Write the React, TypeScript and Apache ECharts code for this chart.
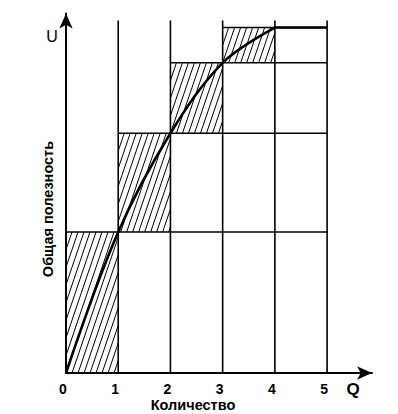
import React, { useEffect, useRef } from "react";
import * as echarts from "echarts";

// Quantity (Q) and total utility (U)
const quantities = [0, 1, 2, 3, 4, 5];
const utility = [0, 40, 68, 88, 98, 98];
const xTickLabels = [0, 1, 2, 3, 4, 5];
const gridTop = 100; // top of vertical guide lines (U units)

const FONT = '"Liberation Sans", Arial, sans-serif';

export default function App() {
  const ref = useRef<HTMLDivElement>(null);

  useEffect(() => {
    if (!ref.current) return;
    const chart = echarts.init(ref.current, null, { renderer: "svg" });

    // hatched rectangles: increments of total utility
    const hatchRects: number[][] = [];
    for (let i = 0; i < quantities.length - 2; i++) {
      hatchRects.push([quantities[i], quantities[i + 1], utility[i], utility[i + 1]]);
    }
    // guide lines
    const guideLines: number[][] = [];
    const lastQ = quantities[quantities.length - 1];
    for (let i = 1; i < quantities.length - 1; i++) {
      guideLines.push([quantities[i - 1], utility[i], lastQ, utility[i]]);
    }
    for (let i = 1; i < quantities.length; i++) {
      guideLines.push([quantities[i], 0, quantities[i], gridTop]);
    }

    const k = 0.34; // hatch slope (dx per dy)
    const spacing = 6;

    const risePart = quantities.slice(0, 5).map((q, i) => [q, utility[i]]);
    const flatPart = quantities.slice(4).map((q, i) => [q, utility[i + 4]]);

    chart.setOption({
      animation: false,
      grid: { left: 66, top: 13.45, bottom: 41, width: 306 },
      xAxis: {
        type: "value",
        min: 0,
        max: 5.86,
        interval: 1,
        splitLine: { show: false },
        axisTick: { show: false },
        axisLine: {
          lineStyle: { color: "#000", width: 2 },
          symbol: ["none", "arrow"],
          symbolSize: [10, 15],
        },
        axisLabel: {
          customValues: xTickLabels,
          color: "#000",
          fontSize: 14,
          fontWeight: "bold",
          fontFamily: FONT,
          margin: 9,
          padding: [0, 6, 0, 0],
        },
      },
      yAxis: {
        type: "value",
        min: 0,
        max: 102,
        splitLine: { show: false },
        axisTick: { show: false },
        axisLabel: { show: false },
        axisLine: {
          lineStyle: { color: "#000", width: 2 },
          symbol: ["none", "arrow"],
          symbolSize: [10, 15],
        },
      },
      series: [
        {
          type: "custom",
          data: hatchRects,
          silent: true,
          z: 1,
          renderItem: (params: any, api: any) => {
            const p0 = api.coord([api.value(0), api.value(2)]);
            const p1 = api.coord([api.value(1), api.value(3)]);
            const L = p0[0], R = p1[0], B = p0[1], T = p1[1];
            const h = B - T;
            const children: any[] = [];
            for (let c = L - k * h; c <= R; c += spacing) {
              const t0 = Math.max(0, (L - c) / k);
              const t1 = Math.min(h, (R - c) / k);
              if (t1 <= t0) continue;
              children.push({
                type: "line",
                shape: { x1: c + k * t0, y1: B - t0, x2: c + k * t1, y2: B - t1 },
                style: { stroke: "#000", lineWidth: 1 },
              });
            }
            return { type: "group", children };
          },
        },
        {
          type: "custom",
          data: guideLines,
          silent: true,
          z: 2,
          renderItem: (params: any, api: any) => {
            const a = api.coord([api.value(0), api.value(1)]);
            const b = api.coord([api.value(2), api.value(3)]);
            return {
              type: "line",
              shape: { x1: a[0], y1: a[1], x2: b[0], y2: b[1] },
              style: { stroke: "#000", lineWidth: 1.6 },
            };
          },
        },
        {
          type: "line",
          data: risePart,
          smooth: 0.35,
          showSymbol: false,
          silent: true,
          z: 3,
          lineStyle: { color: "#000", width: 2.6 },
        },
        {
          type: "line",
          data: flatPart,
          showSymbol: false,
          silent: true,
          z: 3,
          lineStyle: { color: "#000", width: 2.6 },
        },
      ],
      graphic: [
        {
          type: "text",
          x: 52,
          y: 36,
          style: { text: "U", font: `16px ${FONT}`, fill: "#000", align: "center", verticalAlign: "middle" },
        },
        {
          type: "text",
          x: 353,
          y: 389,
          style: { text: "Q", font: `bold 17px ${FONT}`, fill: "#000", align: "center", verticalAlign: "middle" },
        },
        {
          type: "text",
          x: 193,
          y: 405,
          style: { text: "Количество", font: `bold 14.5px ${FONT}`, fill: "#000", align: "center", verticalAlign: "middle" },
        },
        {
          type: "text",
          x: 48,
          y: 209,
          rotation: Math.PI / 2,
          style: { text: "Общая полезность", font: `bold 14.5px ${FONT}`, fill: "#000", align: "center", verticalAlign: "middle" },
        },
      ],
    });
    return () => chart.dispose();
  }, []);

  return (
    <div
      ref={ref}
      style={{ position: "fixed", left: 0, top: 0, width: 398, height: 414, background: "#fff" }}
    />
  );
}
